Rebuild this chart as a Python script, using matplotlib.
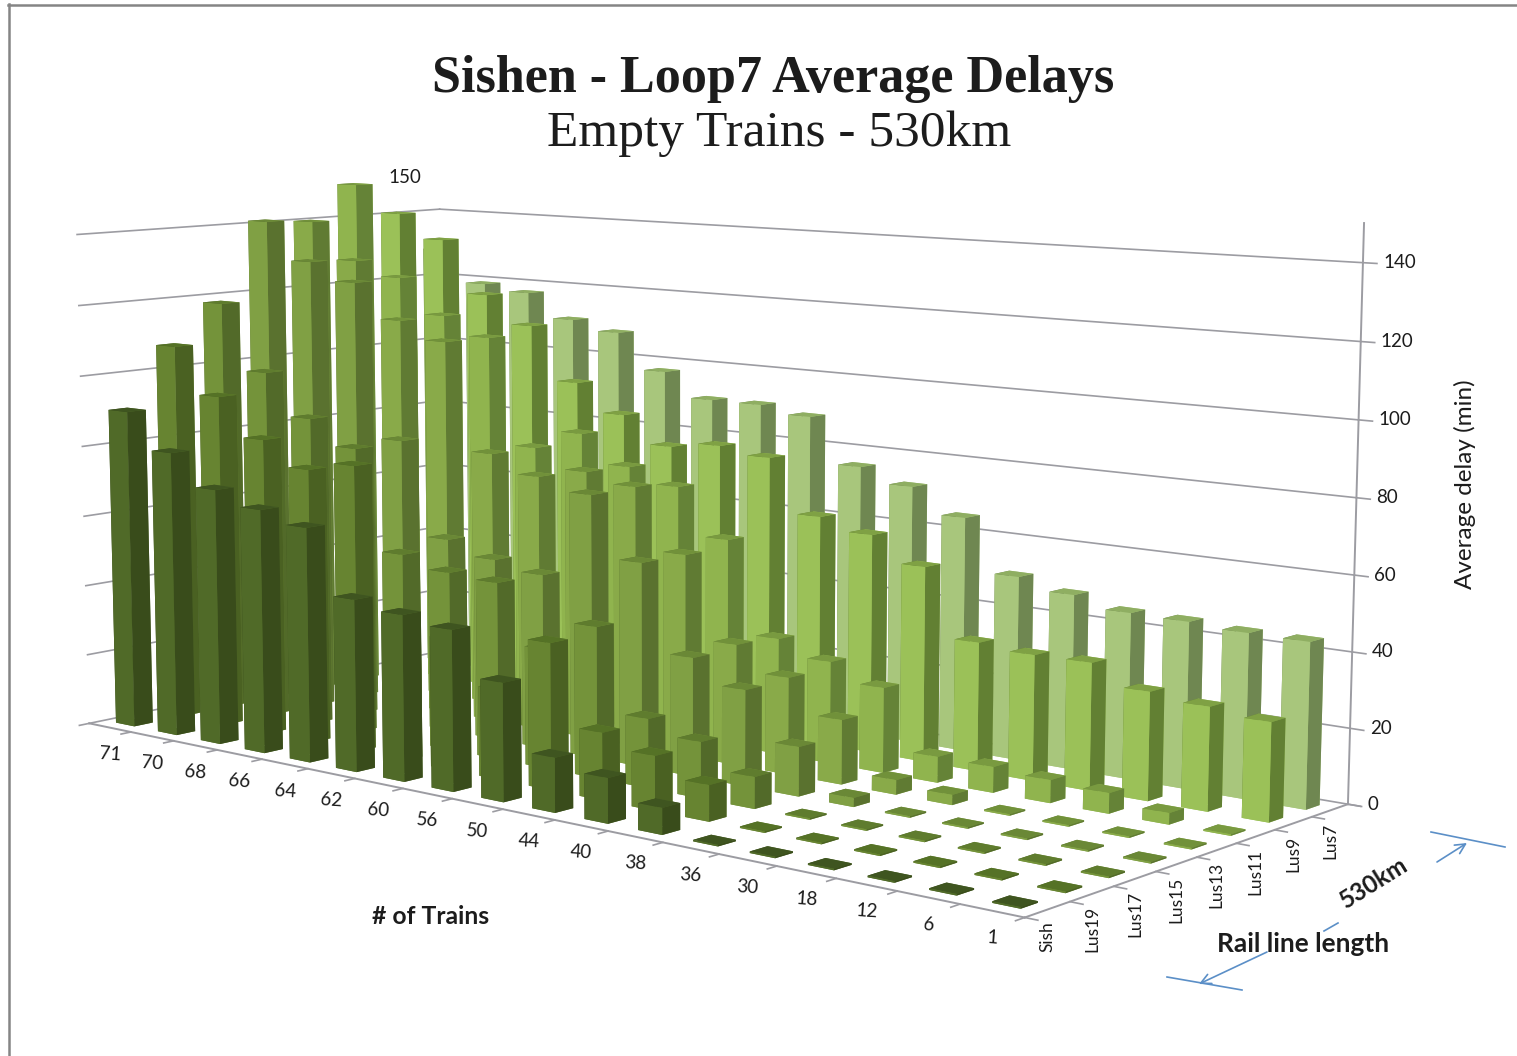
import numpy as np
import matplotlib
matplotlib.use("Agg")
import matplotlib.pyplot as plt
from mpl_toolkits.mplot3d import proj3d

# number of trains (x axis) and rail line position (depth axis)
trains = ["71", "70", "68", "66", "64", "62", "60", "56", "50", "44", "40", "38", "36", "30", "18", "12", "6", "1"]
series = ["Sish", "Lus19", "Lus17", "Lus15", "Lus13", "Lus11", "Lus9", "Lus7"]
delay_ticks = [0, 20, 40, 60, 80, 100, 120, 140]

# average delay in minutes, one list per series
sish = [90.3, 80.2, 71.5, 67.7, 64.6, 47.0, 45.0, 43.2, 31.5, 14.4, 11.8, 6.9, 0.4, 0.4, 0.4, 0.4, 0.4, 0.4]
lus19 = [107.3, 94.3, 83.6, 76.8, 79.5, 37.6, 35.7, 24.4, 39.3, 17.9, 14.4, 9.5, 0.4, 0.4, 0.4, 0.4, 0.4, 0.4]
lus17 = [118.3, 99.6, 87.8, 80.8, 52.7, 49.6, 48.8, 32.6, 41.0, 18.6, 15.0, 8.4, 0.4, 0.4, 0.4, 0.4, 0.4, 0.4]
lus15 = [141.0, 130.2, 125.2, 81.2, 54.7, 50.9, 48.6, 72.6, 55.9, 32.2, 25.9, 13.2, 2.4, 0.4, 0.4, 0.4, 0.4, 0.4]
lus13 = [140.0, 129.4, 113.0, 108.0, 77.2, 72.3, 75.3, 72.8, 55.8, 33.1, 26.4, 17.4, 3.9, 2.7, 0.4, 0.4, 0.4, 0.4]
lus11 = [150.1, 123.3, 113.1, 107.8, 77.1, 82.7, 74.8, 70.8, 57.7, 32.1, 28.0, 23.2, 7.0, 6.9, 6.1, 5.4, 3.0, 0.4]
lus9 = [140.6, 133.5, 118.0, 109.9, 94.4, 86.4, 78.7, 80.5, 78.7, 63.8, 60.6, 53.7, 35.1, 34.0, 34.2, 28.9, 27.4, 25.9]
lus7 = [128.6, 119.1, 117.4, 110.4, 107.7, 97.4, 90.5, 90.5, 88.5, 75.8, 71.9, 65.0, 50.6, 47.7, 44.9, 44.7, 43.9, 43.8]
delays = [sish, lus19, lus17, lus15, lus13, lus11, lus9, lus7]

# front face, side face, top face
colors = [
    ("#506a28", "#394c1b", "#3f5520"),
    ("#678431", "#4a6122", "#557226"),
    ("#74933a", "#526a29", "#5f7c2e"),
    ("#80a044", "#5a722f", "#6a8836"),
    ("#89aa49", "#607b33", "#71913a"),
    ("#90b44e", "#658337", "#799a40"),
    ("#9bc158", "#628033", "#7fa144"),
    ("#a8c67c", "#6f8751", "#8fae62"),
]

W, H = 1517, 1056
GRID = "#9c9ca2"
TEXT = "#1c1c1c"
BLUE = "#5b8fc7"
bar_x, bar_y = 0.44, 0.38

fig = plt.figure(figsize=(W / 100, H / 100), dpi=100, facecolor="white")
ax = fig.add_axes([-29.3 / W, -148.5 / H, 1393.1 / W, 1393.1 / H], projection="3d")
ax.set_axis_off()
ax.patch.set_alpha(0)
ax.computed_zorder = False
ax.set_proj_type("persp", focal_length=0.46547)
ax.view_init(elev=8.2367, azim=-49.6598)
ax.set_box_aspect((1, 0.44696, 0.46138))

# walls and floor edges
for z in delay_ticks:
    ax.plot([0, 0], [0, 8], [z, z], color=GRID, lw=1.2, zorder=1, clip_on=False)
    ax.plot([0, 18], [8, 8], [z, z], color=GRID, lw=1.2, zorder=1, clip_on=False)
    ax.plot([18, 18.22], [8, 8], [z, z], color=GRID, lw=1.2, zorder=1, clip_on=False)
ax.plot([18, 18], [8, 8], [0, 150], color=GRID, lw=1.4, zorder=1, clip_on=False)
ax.plot([0, 18], [0, 0], [0, 0], color=GRID, lw=1.4, zorder=1)
ax.plot([18, 18], [0, 8], [0, 0], color=GRID, lw=1.4, zorder=1)
for i in range(len(trains) + 1):
    ax.plot([i, i], [0, -0.2], [0, 0], color=GRID, lw=1.2, zorder=1)
for j in range(len(series) + 1):
    ax.plot([18, 18.2], [j, j], [0, 0], color=GRID, lw=1.2, zorder=1, clip_on=False)

# bars back to front so they overlap correctly
order = 2
for j in range(len(series) - 1, -1, -1):
    front, side, top = colors[j]
    for i in range(len(trains)):
        face = [front, top, front, front, side, side]
        bar = ax.bar3d(i + 0.5 - bar_x / 2, j + 0.5 - bar_y / 2, 0, bar_x, bar_y, delays[j][i],
                       color=face, shade=False, edgecolor="none", linewidth=0)
        bar.set_zorder(order)
        order += 1

ax.set_xlim3d(0, 18, view_margin=0)
ax.set_ylim3d(0, 8, view_margin=0)
ax.set_zlim3d(0, 150, view_margin=0)

M = ax.get_proj()


def label3d(x, y, z, text, dx, dy, size=13.5, **kw):
    # text placed at a projected 3D point plus an offset in pixels
    xp, yp, _ = proj3d.proj_transform(x, y, z, M)
    ax.annotate(text, (xp, yp), xytext=(dx * 0.72, dy * 0.72), textcoords="offset points",
                annotation_clip=False, color=TEXT, fontfamily="Lato", fontsize=size, zorder=500, **kw)


for i, name in enumerate(trains):
    label3d(i + 0.5, 0, 0, name, 0, -27, ha="center", va="center", rotation=-4)
for j, name in enumerate(series):
    label3d(18, j + 0.5, 0, name, 0, -12, size=12.5, ha="center", va="top", rotation=90)
for z in delay_ticks:
    label3d(18, 8, z, str(z), 20, 0, ha="left", va="center")
label3d(0, 8, 150, "150", -18, 0, ha="right", va="center")


def text_px(x, y, s, **kw):
    fig.text(x / W, 1 - y / H, s, ha="center", va="center", color=TEXT, **kw)


text_px(773, 79, "Sishen - Loop7 Average Delays", fontfamily="Liberation Serif", fontweight="bold", fontsize=37.5)
text_px(779, 134, "Empty Trains - 530km", fontfamily="Liberation Serif", fontsize=37)
text_px(431, 916, "# of Trains", fontfamily="Lato", fontweight="bold", fontsize=17.8)
text_px(1303, 944, "Rail line length", fontfamily="Lato", fontweight="bold", fontsize=18.9)
text_px(1374, 883, "530km", fontfamily="Lato", fontweight="bold", fontsize=17.5, rotation=32)
text_px(1465, 484, "Average delay (min)", fontfamily="Lato", fontsize=17.5, rotation=90)


def line_px(x0, y0, x1, y1, color=BLUE, lw=1.2):
    fig.add_artist(plt.Line2D([x0 / W, x1 / W], [1 - y0 / H, 1 - y1 / H], color=color, lw=lw,
                              transform=fig.transFigure))


def arrow_px(x0, y0, x1, y1):
    ax.annotate("", xy=(x1, H - y1), xytext=(x0, H - y0), xycoords="figure pixels", textcoords="figure pixels",
                arrowprops=dict(arrowstyle="->", color=BLUE, lw=1.2, mutation_scale=18, shrinkA=0, shrinkB=0),
                annotation_clip=False, zorder=500)


# hand drawn span markers around the rail line length
line_px(1167, 977, 1242, 990)
arrow_px(1267, 952, 1199, 984)
line_px(1324, 931, 1338, 923)
line_px(1431, 832, 1505, 847)
arrow_px(1437, 862, 1467, 843)

# picture frame, only top and left edges show
line_px(8, 5, W, 5, color="#858585", lw=1.8)
line_px(9, 4, 9, H, color="#858585", lw=1.8)

fig.savefig("out.png", dpi=100)
